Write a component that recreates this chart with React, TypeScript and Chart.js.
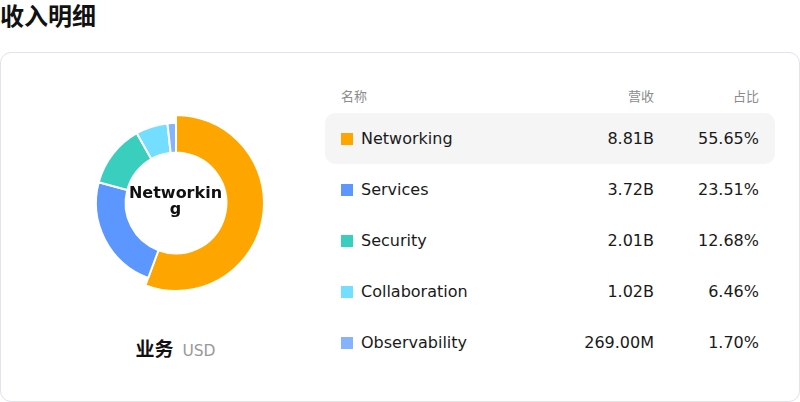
import React, { useEffect, useRef } from "react";
import { Chart, registerables } from "chart.js";

Chart.register(...registerables);

const title = "收入明细";
const categories = ["Networking", "Services", "Security", "Collaboration", "Observability"];
const revenueB = [8.81, 3.72, 2.01, 1.02, 0.269];
const revenueLabels = ["8.81B", "3.72B", "2.01B", "1.02B", "269.00M"];
const shareLabels = ["55.65%", "23.51%", "12.68%", "6.46%", "1.70%"];
const colors = ["#FFA500", "#5B97FF", "#3ACEBF", "#73DEFF", "#86B3FF"];
const headers = ["名称", "营收", "占比"];
const activeIndex = 0;

const FONT = '"DejaVu Sans", "Noto Sans CJK SC", sans-serif';

const enlargePlugin = {
  id: "enlargeActive",
  afterDatasetUpdate(chart: any, args: any) {
    const arc = args.meta.data[activeIndex];
    if (arc) arc.outerRadius = arc.outerRadius + 8;
  },
};

export default function App() {
  const canvasRef = useRef<HTMLCanvasElement | null>(null);

  useEffect(() => {
    if (!canvasRef.current) return;
    const chart = new Chart(canvasRef.current, {
      type: "doughnut",
      data: {
        labels: categories,
        datasets: [
          {
            data: revenueB,
            backgroundColor: colors,
            borderColor: "#ffffff",
            borderWidth: 2,
            clip: false,
          } as any,
        ],
      },
      options: {
        animation: false,
        responsive: true,
        maintainAspectRatio: false,
        cutout: "63%",
        layout: { padding: 19 },
        plugins: { legend: { display: false }, tooltip: { enabled: false } },
        events: [],
      },
      plugins: [enlargePlugin],
    });
    return () => chart.destroy();
  }, []);

  return (
    <div style={{ position: "relative", width: 800, height: 402, fontFamily: FONT, background: "#fff", overflow: "hidden" }}>
      <style>{`body{margin:0}`}</style>
      <div style={{ position: "absolute", left: 0, top: 0, fontSize: 24, fontWeight: 700, lineHeight: "34px", color: "#111" }}>{title}</div>
      <div
        style={{
          position: "absolute",
          left: 0,
          top: 52,
          width: 800,
          height: 350,
          boxSizing: "border-box",
          border: "1px solid #e2e1ec",
          borderRadius: 11,
        }}
      />
      <div style={{ position: "absolute", left: 75.5, top: 103, width: 200, height: 200 }}>
        <canvas ref={canvasRef} />
      </div>
      <div
        style={{
          position: "absolute",
          left: 125.5,
          top: 185,
          width: 100,
          textAlign: "center",
          fontSize: 16,
          fontWeight: 700,
          lineHeight: "16px",
          wordBreak: "break-all",
          color: "#111",
        }}
      >
        {categories[activeIndex]}
      </div>
      <div style={{ position: "absolute", left: 75.5, width: 200, top: 334, display: "flex", justifyContent: "center", alignItems: "baseline", gap: 9 }}>
        <span style={{ fontSize: 19, fontWeight: 700, color: "#111" }}>业务</span>
        <span style={{ fontSize: 15.5, color: "#999" }}>USD</span>
      </div>
      <div style={{ position: "absolute", left: 325, top: 80, width: 450 }}>
        <div style={{ display: "flex", height: 30, alignItems: "center", padding: "0 16px 0 16px", fontSize: 13, color: "#8c8c8c" }}>
          <div style={{ flex: 1 }}>{headers[0]}</div>
          <div style={{ textAlign: "right" }}>{headers[1]}</div>
          <div style={{ width: 105, textAlign: "right" }}>{headers[2]}</div>
        </div>
        <div style={{ height: 3 }} />
        {categories.map((c, i) => (
          <div
            key={c}
            style={{
              display: "flex",
              height: 51,
              alignItems: "center",
              padding: "0 16px 0 16px",
              fontSize: 16,
              color: "#1a1a1a",
              background: i === activeIndex ? "#f5f5f5" : "transparent",
              borderRadius: 10,
            }}
          >
            <div style={{ width: 12, height: 12, background: colors[i], marginRight: 8 }} />
            <div style={{ flex: 1 }}>{c}</div>
            <div style={{ textAlign: "right" }}>{revenueLabels[i]}</div>
            <div style={{ width: 105, textAlign: "right" }}>{shareLabels[i]}</div>
          </div>
        ))}
      </div>
    </div>
  );
}
